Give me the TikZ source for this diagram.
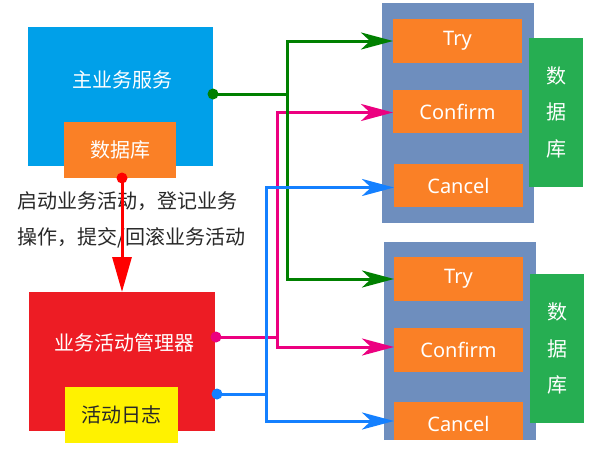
\documentclass[tikz,border=0pt]{standalone}
\usepackage{fontspec}
\setmainfont{Noto Sans}
\newfontfamily\cjk{Noto Sans CJK SC}
\usetikzlibrary{arrows.meta}
\definecolor{mainblue}{RGB}{0,160,233}
\definecolor{dborange}{RGB}{250,128,38}
\definecolor{mgrred}{RGB}{237,28,36}
\definecolor{logyellow}{RGB}{255,242,0}
\definecolor{panelblue}{RGB}{110,142,190}
\definecolor{dbgreen}{RGB}{38,174,82}
\definecolor{lgreen}{RGB}{0,128,0}
\definecolor{lpink}{RGB}{236,0,128}
\definecolor{lblue}{RGB}{20,128,255}
\definecolor{txtdark}{RGB}{40,40,40}
\tikzset{
  rect/.style={draw=none, inner sep=0pt, outer sep=0pt},
  cjktxt/.style={font=\cjk\fontsize{20}{24}\selectfont, inner sep=0pt},
  optxt/.style={font=\fontsize{20}{24}\selectfont, text=white, inner sep=0pt},
  opbox/.style={rect, fill=dborange, minimum width=129pt, minimum height=44pt},
  panel/.style={rect, fill=panelblue, minimum width=152pt},
  dbbox/.style={rect, fill=dbgreen, minimum width=54pt, minimum height=149pt,
    font=\cjk\fontsize{20}{36.5}\selectfont, text=white, align=center},
  conn/.style={line width=3pt},
  tip/.style={-{Stealth[length=32pt,width=17pt,inset=9pt]}},
  dot/.style={circle, inner sep=0pt, minimum size=11pt},
}
\begin{document}
\begin{tikzpicture}[x=1pt,y=-1pt]
\useasboundingbox (0,0) rectangle (612,471);
\fill[white] (0,0) rectangle (612,471);

% left side
\node[rect, fill=mainblue, minimum width=185pt, minimum height=139pt] (main) at (120.5,96.5) {};
\node[cjktxt, text=white] (maintxt) at (122,80) {主业务服务};
\node[rect, fill=dborange, minimum width=112pt, minimum height=56pt, cjktxt, text=white] (db0) at (120,150) {数据库};

\node[rect, fill=mgrred, minimum width=186pt, minimum height=139pt] (mgr) at (122,361.5) {};
\node[cjktxt, text=white] (mgrtxt) at (124,343) {业务活动管理器};
\node[rect, fill=logyellow, minimum width=113pt, minimum height=56pt, cjktxt, text=txtdark] (log) at (121.5,415) {活动日志};

\node[cjktxt, text=txtdark, anchor=west] (desc1) at (17,201) {启动业务活动，登记业务};
\node[cjktxt, text=txtdark, anchor=west] (desc2) at (17,238) {操作，提交/回滚业务活动};

% upper right
\node[panel, minimum height=220pt] (p1) at (458,113) {};
\node[opbox, optxt] (try1) at (457.5,41) {Try};
\node[opbox, optxt, minimum height=43pt] (conf1) at (457.5,111.5) {Confirm};
\node[opbox, optxt, minimum height=43pt] (canc1) at (458.5,185.5) {Cancel};
\node[dbbox] (db1) at (556,112) {数\\据\\库};

% lower right
\node[panel, minimum height=198pt] (p2) at (459.5,341) {};
\node[opbox, optxt] (try2) at (458.5,279) {Try};
\node[opbox, optxt] (conf2) at (458.5,350) {Confirm};
\node[opbox, minimum height=38pt] (canc2) at (458.5,421) {};
\node[optxt] (canc2txt) at (458.5,424) {Cancel};
\node[dbbox] (db2) at (557,348.5) {数\\据\\库};

% junction coordinates
\coordinate (gsrc) at (213,94);
\coordinate (gj) at (287,94);
\coordinate (psrc) at (216,337);
\coordinate (pj) at (277,337);
\coordinate (bsrc) at (217,394);
\coordinate (bj) at (266,394);
\coordinate (rsrc) at (122,178);

% pink
\draw[conn, lpink] (psrc) -- (pj);
\draw[conn, lpink, tip] (pj) |- ([yshift=-1pt]conf1.west);
\draw[conn, lpink, tip] (pj) |- ([yshift=3pt]conf2.west);
% green
\draw[conn, lgreen] (gsrc) -- (gj);
\draw[conn, lgreen, tip] (gj) |- (try1.west);
\draw[conn, lgreen, tip] (gj) |- (try2.west);
% blue
\draw[conn, lblue] (bsrc) -- (bj);
\draw[conn, lblue, tip] (bj) |- ([yshift=-2pt]canc1.west);
\draw[conn, lblue, tip] (bj) |- (canc2.west);

\node[dot, fill=lgreen] (gdot) at (gsrc) {};
\node[dot, fill=lpink] (pdot) at (psrc) {};
\node[dot, fill=lblue] (bdot) at (bsrc) {};

% red
\draw[conn, red, -{Triangle[length=35pt,width=19pt]}] (rsrc) -- (rsrc |- mgr.north);
\node[dot, fill=red] (rdot) at (rsrc) {};
\end{tikzpicture}
\end{document}
